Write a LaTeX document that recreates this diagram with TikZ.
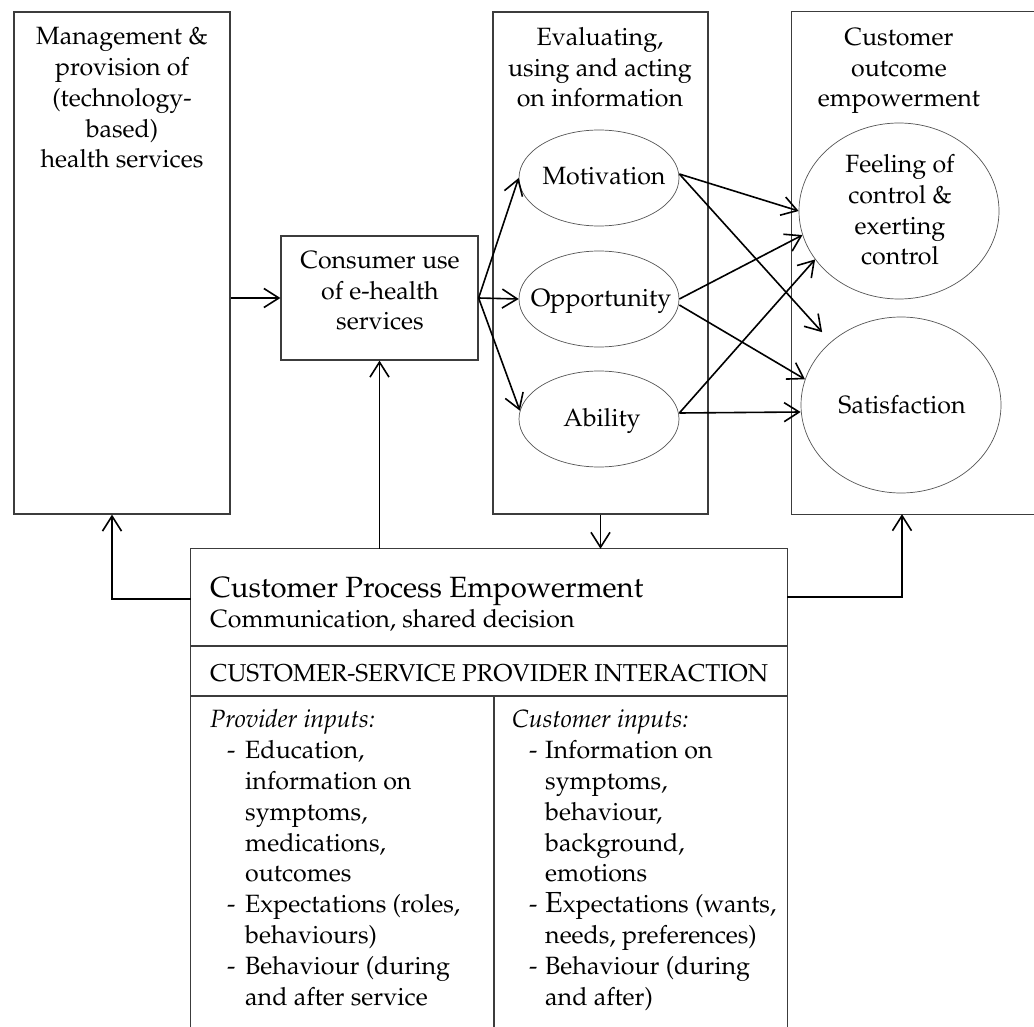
\documentclass[tikz,border=0pt]{standalone}
\usepackage[T1]{fontenc}
\usepackage{mathpazo}
\usetikzlibrary{shapes.geometric,arrows.meta,calc}
\definecolor{boxgray}{RGB}{60,60,60}
\definecolor{ellgray}{RGB}{85,85,85}
\newcommand\diagbody{\fontsize{25}{30.8}\selectfont}
\begin{document}
\begin{tikzpicture}[x=1pt,y=-1pt,
  box/.style={draw=boxgray, line width=1.2pt, inner sep=0pt},
  openbox/.style={inner sep=0pt},
  boxline/.style={draw=boxgray, line width=1.2pt},
  ell/.style={ellipse, draw=ellgray, line width=0.7pt, inner sep=0pt},
  txt/.style={inner sep=0pt, font=\diagbody, align=center},
  ltxt/.style={inner sep=0pt, font=\diagbody, align=left, anchor=base west},
  arr/.style={draw=black, line width=1.6pt, -{Straight Barb[length=15pt,width=19pt,line width=1.6pt]}}]
\useasboundingbox (0,0) rectangle (1034,1027);
\fill[white] (0,0) rectangle (1034,1027);

% boxes
\node[box, minimum width=216pt, minimum height=502pt] (mgmt) at (122,263) {};
\node[box, minimum width=197pt, minimum height=124pt] (cons) at (379.5,298) {};
\node[box, minimum width=215pt, minimum height=502pt] (eval) at (600.5,263) {};
\node[openbox, minimum width=242pt, minimum height=502pt] (outc) at (913,263) {};
\draw[boxline] (outc.north east) -- (outc.north west) -- (outc.south west) -- (outc.south east);
\node[openbox, minimum width=596pt, minimum height=478pt] (bot) at (489,788) {};
\draw[boxline] (bot.south west) -- (bot.north west) -- (bot.north east) -- (bot.south east);
\coordinate (d1) at (0,646);
\coordinate (d2) at (0,696);
\coordinate (dv) at (494,696);
\draw[boxline] (bot.west |- d1) -- (bot.east |- d1);
\draw[boxline] (bot.west |- d2) -- (bot.east |- d2);
\draw[boxline] (dv) -- (dv |- bot.south);

% ellipses
\node[ell, minimum width=160pt, minimum height=96pt] (mot) at (599,178) {};
\node[ell, minimum width=160pt, minimum height=96pt] (opp) at (599,299) {};
\node[ell, minimum width=160pt, minimum height=96pt] (abl) at (599,419) {};
\node[ell, minimum width=200pt, minimum height=176pt] (feel) at (899,211) {};
\node[ell, minimum width=200pt, minimum height=176pt] (sat) at (901,405) {};

% texts (anchor base = baseline of last line)
\node[txt, anchor=base] (mgmtT) at (122,168) {Management \&\\provision of\\(technology-\\based)\\health services};
\node[txt, anchor=base] (evalT) at (600,107) {Evaluating,\\using and acting\\on information};
\node[txt, anchor=base] (outcT) at (899,107) {Customer\\outcome\\empowerment};
\node[txt, anchor=base] (consT) at (380,330) {Consumer use\\of e-health\\services};
\node[txt, anchor=base] (motT) at (604,185) {Motivation};
\node[txt, anchor=base] (oppT) at (601,306) {Opportunity};
\node[txt, anchor=base] (ablT) at (602,426) {Ability};
\node[txt, anchor=base] (feelT) at (900,265) {Feeling of\\control \&\\exerting\\control};
\node[txt, anchor=base] (satT) at (902,413) {Satisfaction};

\node[ltxt, font=\fontsize{29.3}{36}\selectfont] (cpeT) at (210,597) {Customer Process Empowerment};
\node[ltxt] (commT) at (210,627) {Communication, shared decision};
\node[ltxt, font=\fontsize{24.4}{30.8}\selectfont] (csT) at (210,681) {CUSTOMER-SERVICE PROVIDER INTERACTION};
\node[ltxt] (provT) at (210,1005) {\textit{Provider inputs:}\\
\hspace*{17pt}\makebox[18pt][l]{-}Education,\\
\hspace*{35pt}information on\\
\hspace*{35pt}symptoms,\\
\hspace*{35pt}medications,\\
\hspace*{35pt}outcomes\\
\hspace*{17pt}\makebox[18pt][l]{-}Expectations (roles,\\
\hspace*{35pt}behaviours)\\
\hspace*{17pt}\makebox[18pt][l]{-}Behaviour (during\\
\hspace*{35pt}and after service};
\node[ltxt] (custT) at (512,1005) {\textit{Customer inputs:}\\
\hspace*{17pt}\makebox[16pt][l]{-}Information on\\
\hspace*{33pt}symptoms,\\
\hspace*{33pt}behaviour,\\
\hspace*{33pt}background,\\
\hspace*{33pt}emotions\\
\hspace*{17pt}\makebox[16pt][l]{-}{\fontsize{29}{30.8}\selectfont E}xpectations (wants,\\
\hspace*{33pt}needs, preferences)\\
\hspace*{17pt}\makebox[16pt][l]{-}Behaviour (during\\
\hspace*{33pt}and after)};

% arrows
\draw[arr] (cons.west -| mgmt.east) -- (cons.west);
\draw[arr] (cons.east) -- (mot.west);
\draw[arr] (cons.east) -- (opp.west);
\draw[arr] (cons.east) -- (abl.174);
\draw[arr] ([yshift=4pt]mot.east) -- (feel.west);
\draw[arr, shorten >=13pt] ([yshift=4pt]mot.east) -- (sat.138);
\draw[arr] (opp.east) -- (feel.194);
\draw[arr] ([yshift=-6pt]opp.east) -- (sat.165);
\draw[arr] ([yshift=6pt]abl.east) -- (feel.210);
\draw[arr] ([yshift=6pt]abl.east) -- ([yshift=-7pt]sat.west);
\draw[arr] (bot.north -| cons.south) -- (cons.south);
\draw[arr] (eval.south) -- (eval.south |- bot.north);
\coordinate (lk) at (112,599);
\draw[arr] (bot.west |- lk) -- (lk) -- (lk |- mgmt.south);
\coordinate (rk) at (902,597);
\draw[arr] (bot.east |- rk) -- (rk) -- (rk |- outc.south);
\end{tikzpicture}
\end{document}
